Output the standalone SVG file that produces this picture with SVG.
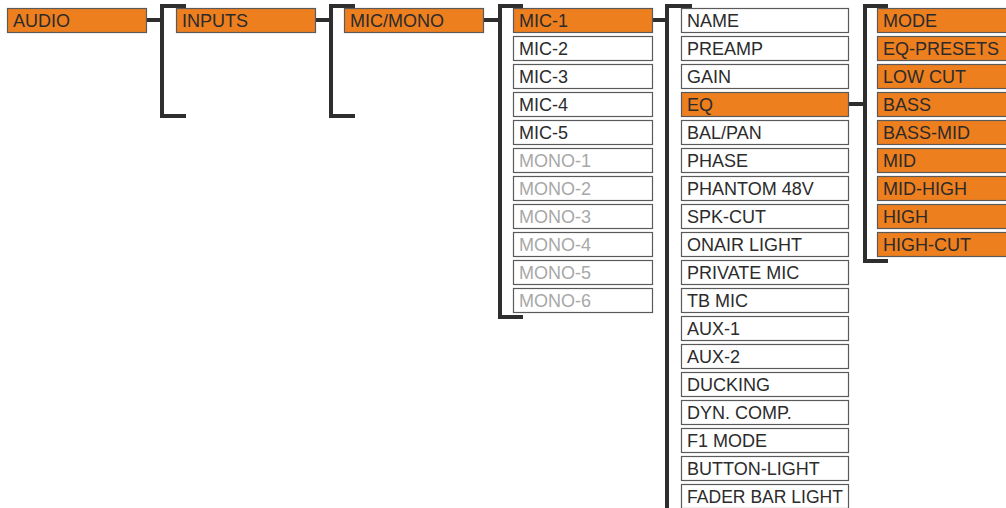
<svg xmlns="http://www.w3.org/2000/svg" width="1006" height="508" viewBox="0 0 1006 508">
<style>
.b{stroke:#5a5a5a;stroke-width:1.2}
.o{fill:#ee7f1f}
.w{fill:#ffffff}
text{font-family:"Liberation Sans",Arial,sans-serif;font-size:18px;fill:#2b2b2b}
text.g{fill:#a8a8a8}
.c{fill:none;stroke:#2e2e2e;stroke-width:4;stroke-linecap:butt}
</style>
<rect width="1006" height="508" fill="#ffffff"/>
<g id="connectors">
<path class="c" d="M147 20H162M186 6H162V116H186"/>
<path class="c" d="M315 20H331M355 6H331V116H355"/>
<path class="c" d="M483 20H500M523 6H500V317H523"/>
<path class="c" d="M652 20H667M692 6H667V508"/>
<path class="c" d="M848 104H865M888 6H865V261H888"/>
</g>
<g id="n-audio"><rect class="b o" x="7.5" y="8.5" width="139" height="24"/><text x="13" y="27">AUDIO</text></g>
<g id="n-inputs"><rect class="b o" x="176.5" y="8.5" width="139" height="24"/><text x="182" y="27">INPUTS</text></g>
<g id="n-micmono"><rect class="b o" x="344.5" y="8.5" width="139" height="24"/><text x="350" y="27">MIC/MONO</text></g>
<g id="n-mic1"><rect class="b o" x="513.5" y="8.5" width="139" height="24"/><text x="519" y="27">MIC-1</text></g>
<g id="n-mic2"><rect class="b w" x="513.5" y="36.5" width="139" height="24"/><text x="519" y="55">MIC-2</text></g>
<g id="n-mic3"><rect class="b w" x="513.5" y="64.5" width="139" height="24"/><text x="519" y="83">MIC-3</text></g>
<g id="n-mic4"><rect class="b w" x="513.5" y="92.5" width="139" height="24"/><text x="519" y="111">MIC-4</text></g>
<g id="n-mic5"><rect class="b w" x="513.5" y="120.5" width="139" height="24"/><text x="519" y="139">MIC-5</text></g>
<g id="n-mono1"><rect class="b w" x="513.5" y="148.5" width="139" height="24"/><text class="g" x="519" y="167">MONO-1</text></g>
<g id="n-mono2"><rect class="b w" x="513.5" y="176.5" width="139" height="24"/><text class="g" x="519" y="195">MONO-2</text></g>
<g id="n-mono3"><rect class="b w" x="513.5" y="204.5" width="139" height="24"/><text class="g" x="519" y="223">MONO-3</text></g>
<g id="n-mono4"><rect class="b w" x="513.5" y="232.5" width="139" height="24"/><text class="g" x="519" y="251">MONO-4</text></g>
<g id="n-mono5"><rect class="b w" x="513.5" y="260.5" width="139" height="24"/><text class="g" x="519" y="279">MONO-5</text></g>
<g id="n-mono6"><rect class="b w" x="513.5" y="288.5" width="139" height="24"/><text class="g" x="519" y="307">MONO-6</text></g>
<g id="n-name"><rect class="b w" x="681.5" y="8.5" width="167" height="24"/><text x="687" y="27">NAME</text></g>
<g id="n-preamp"><rect class="b w" x="681.5" y="36.5" width="167" height="24"/><text x="687" y="55">PREAMP</text></g>
<g id="n-gain"><rect class="b w" x="681.5" y="64.5" width="167" height="24"/><text x="687" y="83">GAIN</text></g>
<g id="n-eq"><rect class="b o" x="681.5" y="92.5" width="167" height="24"/><text x="687" y="111">EQ</text></g>
<g id="n-balpan"><rect class="b w" x="681.5" y="120.5" width="167" height="24"/><text x="687" y="139">BAL/PAN</text></g>
<g id="n-phase"><rect class="b w" x="681.5" y="148.5" width="167" height="24"/><text x="687" y="167">PHASE</text></g>
<g id="n-phantom"><rect class="b w" x="681.5" y="176.5" width="167" height="24"/><text x="687" y="195">PHANTOM 48V</text></g>
<g id="n-spkcut"><rect class="b w" x="681.5" y="204.5" width="167" height="24"/><text x="687" y="223">SPK-CUT</text></g>
<g id="n-onair"><rect class="b w" x="681.5" y="232.5" width="167" height="24"/><text x="687" y="251">ONAIR LIGHT</text></g>
<g id="n-private"><rect class="b w" x="681.5" y="260.5" width="167" height="24"/><text x="687" y="279">PRIVATE MIC</text></g>
<g id="n-tbmic"><rect class="b w" x="681.5" y="288.5" width="167" height="24"/><text x="687" y="307">TB MIC</text></g>
<g id="n-aux1"><rect class="b w" x="681.5" y="316.5" width="167" height="24"/><text x="687" y="335">AUX-1</text></g>
<g id="n-aux2"><rect class="b w" x="681.5" y="344.5" width="167" height="24"/><text x="687" y="363">AUX-2</text></g>
<g id="n-ducking"><rect class="b w" x="681.5" y="372.5" width="167" height="24"/><text x="687" y="391">DUCKING</text></g>
<g id="n-dyncomp"><rect class="b w" x="681.5" y="400.5" width="167" height="24"/><text x="687" y="419">DYN. COMP.</text></g>
<g id="n-f1mode"><rect class="b w" x="681.5" y="428.5" width="167" height="24"/><text x="687" y="447">F1 MODE</text></g>
<g id="n-buttonlight"><rect class="b w" x="681.5" y="456.5" width="167" height="24"/><text x="687" y="475">BUTTON-LIGHT</text></g>
<g id="n-faderbar"><rect class="b w" x="681.5" y="484.5" width="167" height="24"/><text x="687" y="503" textLength="156" lengthAdjust="spacingAndGlyphs">FADER BAR LIGHT</text></g>
<g id="n-mode"><rect class="b o" x="877.5" y="8.5" width="140" height="24"/><text x="883" y="27">MODE</text></g>
<g id="n-eqpresets"><rect class="b o" x="877.5" y="36.5" width="140" height="24"/><text x="883" y="55">EQ-PRESETS</text></g>
<g id="n-lowcut"><rect class="b o" x="877.5" y="64.5" width="140" height="24"/><text x="883" y="83">LOW CUT</text></g>
<g id="n-bass"><rect class="b o" x="877.5" y="92.5" width="140" height="24"/><text x="883" y="111">BASS</text></g>
<g id="n-bassmid"><rect class="b o" x="877.5" y="120.5" width="140" height="24"/><text x="883" y="139">BASS-MID</text></g>
<g id="n-mid"><rect class="b o" x="877.5" y="148.5" width="140" height="24"/><text x="883" y="167">MID</text></g>
<g id="n-midhigh"><rect class="b o" x="877.5" y="176.5" width="140" height="24"/><text x="883" y="195">MID-HIGH</text></g>
<g id="n-high"><rect class="b o" x="877.5" y="204.5" width="140" height="24"/><text x="883" y="223">HIGH</text></g>
<g id="n-highcut"><rect class="b o" x="877.5" y="232.5" width="140" height="24"/><text x="883" y="251">HIGH-CUT</text></g>
</svg>
